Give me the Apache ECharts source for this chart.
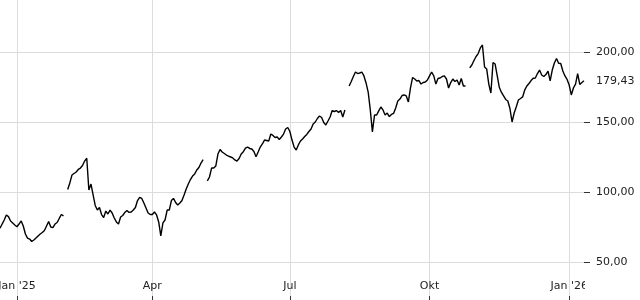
<!DOCTYPE html>
<html>
<head>
<meta charset="utf-8">
<script src="https://cdn.jsdelivr.net/npm/echarts@6/dist/echarts.min.js"></script>
<style>html,body{margin:0;padding:0;background:#fff}#c{width:640px;height:300px}</style>
</head>
<body>
<div id="c"></div>
<script>
// first session shown (weekday sessions follow)
const startDate = '2024-12-20';
// daily closes (null = gap in the data)
const closeValues = [
74.1,77.1,80.0,83.6,82.4,79.3,77.9,76.4,75.2,77.1,
79.3,75.7,70.0,67.1,66.4,64.6,65.7,67.1,68.6,70.0,
71.1,72.5,75.7,78.9,75.0,74.6,77.1,78.2,81.1,83.9,
82.9,null,101.8,106.4,112.1,113.2,114.3,116.1,117.1,118.9,
122.1,124.1,101.4,105.7,97.9,90.4,87.1,88.9,83.9,81.8,
86.4,84.3,87.1,85.0,81.4,78.6,77.1,82.1,83.2,85.4,
86.8,85.4,85.7,87.1,88.9,93.9,96.1,95.4,92.1,88.6,
85.0,83.9,83.9,85.7,83.6,78.6,68.6,77.9,80.0,87.1,
87.1,93.9,95.4,92.5,90.7,92.1,93.9,97.9,102.1,105.7,
108.9,111.4,112.9,115.7,117.5,120.7,123.2,null,107.9,110.7,
117.1,117.1,118.6,127.1,130.4,128.6,127.5,126.4,125.7,125.0,
124.3,122.9,122.1,123.9,127.1,128.8,131.4,132.1,131.1,130.7,
128.9,125.2,128.6,132.1,134.3,137.1,136.8,136.4,141.4,140.4,
138.9,139.3,137.5,139.3,141.4,145.0,146.1,143.2,137.1,132.1,
130.0,133.6,136.4,137.9,139.6,141.1,143.2,145.0,148.6,150.0,
152.5,154.3,153.2,149.6,147.9,150.7,153.6,158.2,157.5,158.2,
156.8,158.2,153.6,158.6,null,175.7,178.9,182.5,185.7,184.6,
185.0,185.7,182.9,177.9,171.4,158.6,142.9,155.0,155.0,157.9,
160.7,158.6,155.0,156.4,153.9,155.4,156.1,160.0,165.0,166.4,
168.9,169.3,168.6,164.3,174.3,181.8,180.7,179.3,179.6,177.1,
178.2,178.6,180.0,182.9,185.7,182.9,177.1,181.1,181.4,182.5,
182.9,180.7,174.3,178.2,180.7,178.9,180.0,176.4,181.1,175.7,
175.7,null,188.6,190.7,193.9,196.8,198.9,202.9,205.0,189.3,
187.9,177.1,170.7,192.5,191.4,182.9,174.6,171.1,168.6,166.1,
165.0,159.6,150.0,156.4,160.9,165.7,166.8,167.9,172.9,175.7,
177.5,179.6,181.2,181.4,184.6,187.1,183.6,182.5,183.9,186.4,
179.3,187.1,192.1,195.4,191.9,191.8,186.4,182.9,180.4,176.4,
169.3,174.3,177.1,184.6,176.8,178.2,179.43
];
// x-axis tick labels (first session of these months)
const tickMonths = ['2025-01','2025-04','2025-07','2025-10','2026-01'];
const tickLabels = ["Jan '25","Apr","Jul","Okt","Jan '26"];
// y-axis tick values
const yTicks = [50, 100, 150, 200];

// weekday sessions
const dates = [];
{
  const p = startDate.split('-').map(Number);
  const d = new Date(Date.UTC(p[0], p[1]-1, p[2]));
  while (dates.length < closeValues.length) {
    const wd = d.getUTCDay();
    if (wd !== 0 && wd !== 6) dates.push(d.toISOString().slice(0,10));
    d.setUTCDate(d.getUTCDate()+1);
  }
}
function isTick(i){
  const m = dates[i].slice(0,7);
  return tickMonths.indexOf(m) >= 0 && (i === 0 || dates[i-1].slice(0,7) !== m);
}
let lastVal = null;
for (let i = closeValues.length-1; i >= 0; i--) if (closeValues[i] != null) { lastVal = closeValues[i]; break; }
const fmt = v => v.toFixed(2).replace('.', ',');

const yMin = 25.71, yMax = 237.14;
const font = {fontFamily: 'DejaVu Sans', fontSize: 11, color: '#222'};

const chart = echarts.init(document.getElementById('c'), null, {renderer: 'canvas'});
chart.setOption({
  animation: false,
  backgroundColor: '#fff',
  grid: {left: 0, right: 56, top: 0, bottom: 4, containLabel: false, outerBoundsMode: 'none'},
  xAxis: {
    type: 'category',
    data: dates,
    boundaryGap: false,
    axisLine: {show: false},
    axisTick: {show: true, interval: isTick, length: 4, lineStyle: {color: '#333'}},
    axisLabel: Object.assign({inside: true, interval: isTick, margin: 4, hideOverlap: false,
      formatter: v => tickLabels[tickMonths.indexOf(v.slice(0,7))]}, font),
    splitLine: {show: true, interval: isTick, lineStyle: {color: '#dcdcdc', width: 1}}
  },
  yAxis: [{
    type: 'value', position: 'right', min: yMin, max: yMax,
    axisLine: {show: false},
    axisTick: {show: true, customValues: yTicks, length: 6, lineStyle: {color: '#333'}},
    axisLabel: Object.assign({customValues: yTicks, margin: 12, formatter: fmt}, font),
    splitLine: {show: true, lineStyle: {color: '#dcdcdc', width: 1}}
  }, {
    type: 'value', position: 'right', min: yMin, max: yMax,
    axisLine: {show: false},
    axisTick: {show: false},
    axisLabel: Object.assign({customValues: [lastVal], margin: 12, formatter: fmt}, font),
    splitLine: {show: false}
  }],
  graphic: [{
    type: 'rect', right: 0, bottom: 0, z: 100,
    shape: {width: 55, height: 20},
    style: {fill: '#fff'}, silent: true
  }],
  series: [{
    type: 'line',
    data: closeValues,
    showSymbol: false,
    connectNulls: false,
    lineStyle: {color: '#000', width: 1.4},
    silent: true
  }]
});
</script>
</body>
</html>
